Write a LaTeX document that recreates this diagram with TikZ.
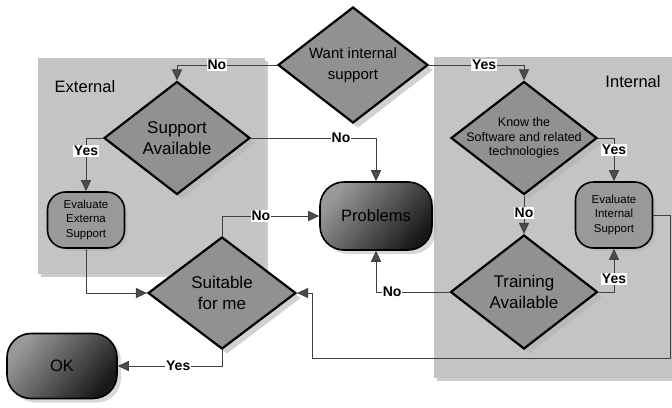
\documentclass[tikz,border=0pt]{standalone}
\usepackage{fontspec}
\setmainfont{Liberation Sans}
\usetikzlibrary{shapes.geometric,arrows.meta,shadows}

\begin{document}
\begin{tikzpicture}[x=1pt,y=-1pt,
    region/.style={fill=black!23,drop shadow={shadow xshift=3pt,shadow yshift=-3pt,fill=black!40,opacity=.5}},
    decision/.style={diamond,draw=black,line width=2.2pt,fill=black!43,inner sep=0pt,
      drop shadow={shadow xshift=5pt,shadow yshift=-5pt,fill=black!30,opacity=.6}},
    dtext/.style={align=center,text=black,inner sep=0pt},
    process/.style={rectangle,rounded corners=18pt,draw=black,line width=1.6pt,fill=black!40,
      minimum width=77pt,align=center,inner sep=0pt,font=\fontsize{11.5}{14.5}\selectfont,
      drop shadow={shadow xshift=3pt,shadow yshift=-3pt,fill=black!30,opacity=.5}},
    terminal/.style={rectangle,rounded corners=24pt,draw=black,line width=1.6pt,
      top color=black!40,bottom color=black!90,shading angle=50,
      font=\fontsize{16.5}{20}\selectfont,
      drop shadow={shadow xshift=4pt,shadow yshift=-4pt,fill=black!30,opacity=.5}},
    lbl/.style={fill=white,inner sep=1pt,font=\bfseries\fontsize{14}{16}\selectfont},
    flow/.style={draw=black!75,line width=1pt,-{Triangle[length=11pt,width=10pt,fill=black!70]}},
    title/.style={font=\fontsize{16.5}{20}\selectfont}]
  \useasboundingbox (0,0) rectangle (672,407);

  % shaded areas
  \fill[region] (38,58) rectangle (265,274);
  \fill[region] (434,57) rectangle (672,378);
  \node[title] (exttitle) at (85,87) {External};
  \node[title] (inttitle) at (633,82) {Internal};

  % decisions
  \node[decision,minimum width=150pt,minimum height=116pt,
    label={[dtext,font=\fontsize{15}{21.5}\selectfont]center:Want internal\\support}] (want) at (353,65) {};
  \node[decision,minimum width=146pt,minimum height=113pt,
    label={[dtext,font=\fontsize{17}{21.5}\selectfont]center:Support\\Available}] (avail) at (177,138) {};
  \node[decision,minimum width=146pt,minimum height=113pt,
    label={[dtext,font=\fontsize{12.5}{14.5}\selectfont]center:Know the\\Software and related\\technologies}] (know) at (524,138) {};
  \node[decision,minimum width=148pt,minimum height=112pt,
    label={[dtext,font=\fontsize{17}{21.5}\selectfont]center:Suitable\\for me}] (suit) at (222,293) {};
  \node[decision,minimum width=147pt,minimum height=114pt,
    label={[dtext,font=\fontsize{17}{21.5}\selectfont]center:Training\\Available}] (train) at (524,292) {};

  % boxes
  \node[process,minimum height=56pt] (evalext) at (86,220) {Evaluate\\Externa\\Support};
  \node[process,minimum height=66pt] (evalint) at (614,215) {Evaluate\\Internal\\Support};
  \node[terminal,minimum width=112pt,minimum height=68pt] (probs) at (376,216) {Problems};
  \node[terminal,minimum width=110pt,minimum height=65pt] (ok) at (62,366) {OK};

  % connectors
  \draw[flow] (want.west) -| node[lbl,pos=.3] {No} (avail.north);
  \draw[flow] (want.east) -| node[lbl,pos=.29] {Yes} (know.north);
  \draw[flow] (avail.east) -| node[lbl,pos=.36] {No} (probs.north);
  \draw[flow] (avail.west) -| node[lbl,pos=.62] {Yes} (evalext.north);
  \draw[flow] (evalext.south) |- (suit.west);
  \draw[flow] (suit.north) |- node[lbl,pos=.7] {No} (probs.west);
  \draw[flow] (suit.south) |- node[lbl,pos=.71] {Yes} (ok.east);
  \draw[flow] (know.east) -| node[lbl,pos=.64] {Yes} (evalint.north);
  \draw[flow] (know.south) -- node[lbl,pos=.45] {No} (train.north);
  \draw[flow] (train.west) -| node[lbl,pos=.39] {No} (probs.south);
  \draw[flow] (train.east) -| node[lbl,pos=.65] {Yes} (evalint.south);
  \draw[flow] (evalint.east) -| (670,358) -| (312,293) -- (suit.east);
\end{tikzpicture}
\end{document}
